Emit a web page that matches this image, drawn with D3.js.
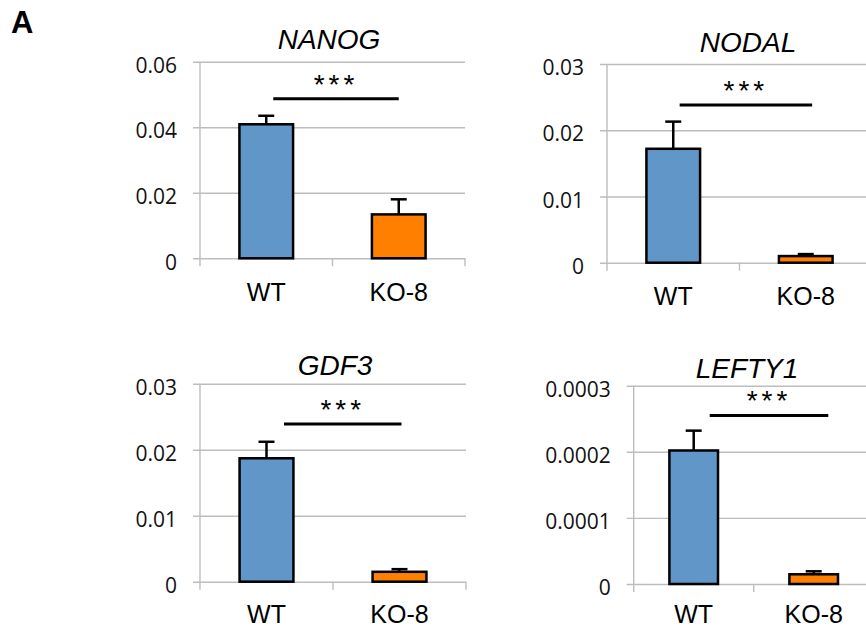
<!DOCTYPE html>
<html>
<head>
<meta charset="utf-8">
<script src="https://cdn.jsdelivr.net/npm/d3@7"></script>
<style>
  body { margin: 0; background: #fff; }
  svg { display: block; }
</style>
</head>
<body>
<svg id="chart" width="866" height="630"></svg>
<script>
// values (relative expression, mean and upper error)
var genes = ["NANOG", "NODAL", "GDF3", "LEFTY1"];
var groups = ["WT", "KO-8"];
var means = [
    [0.0409, 0.0134],
    [0.0172, 0.0010],
    [0.0187, 0.0015],
    [0.000202, 0.0000147]
];
var errors = [
    [0.0026, 0.0046],
    [0.0041, 0.0003],
    [0.0025, 0.0004],
    [0.000030, 0.0000045]
];
var yMax = [0.06, 0.03, 0.03, 0.0003];
var yTicks = [
    [0, 0.02, 0.04, 0.06],
    [0, 0.01, 0.02, 0.03],
    [0, 0.01, 0.02, 0.03],
    [0, 0.0001, 0.0002, 0.0003]
];
var yTickLabels = [
    ["0", "0.02", "0.04", "0.06"],
    ["0", "0.01", "0.02", "0.03"],
    ["0", "0.01", "0.02", "0.03"],
    ["0", "0.0001", "0.0002", "0.0003"]
];
var sigLabels = ["***", "***", "***", "***"];
var sigLevel = [0.0487, 0.0238, 0.0239, 0.000255];

var colors = ["#6196c9", "#ff7f00"];

// panel placement (pixels)
var panels = [
    {x0: 200, x1: 465, top: 61.7, bottom: 258.3, titleX: 329, titleY: 49, sigL: 7, sigR: 0, labPad: 25},
    {x0: 607, x1: 872, top: 64, bottom: 262.7, titleX: 748, titleY: 51.5, sigL: 6.4, sigR: 6.4, labPad: 25},
    {x0: 200, x1: 466, top: 383.7, bottom: 581.7, titleX: 335, titleY: 374.5, sigL: 17.5, sigR: 2, labPad: 24},
    {x0: 633.7, x1: 873.7, top: 385.7, bottom: 584, titleX: 747, titleY: 377.5, sigL: 16, sigR: 14.6, labPad: 21}
];

var svg = d3.select("#chart");

svg.append("text")
    .attr("x", 11)
    .attr("y", 33)
    .attr("font-family", "Liberation Sans, Arial, sans-serif")
    .attr("font-weight", "bold")
    .attr("font-size", 31)
    .text("A");

panels.forEach(function(p, i) {
    var g = svg.append("g");

    var x = d3.scaleBand()
        .domain(groups)
        .range([p.x0, p.x1]);

    var y = d3.scaleLinear()
        .domain([0, yMax[i]])
        .range([p.bottom, p.top]);

    // gridlines + tick labels
    var yAxis = d3.axisLeft(y)
        .tickValues(yTicks[i])
        .tickFormat(function(d, j) { return yTickLabels[i][j]; })
        .tickSize(-(p.x1 - p.x0 + 7))
        .tickPadding(16);

    var ga = g.append("g")
        .attr("transform", "translate(" + (p.x0 - 7) + ",0)")
        .call(yAxis);
    ga.select(".domain").remove();
    ga.selectAll(".tick line")
        .attr("stroke", "#bdbdbd")
        .attr("stroke-width", 1.4);
    ga.selectAll(".tick text")
        .attr("dy", "0.51em")
        .attr("fill", "#111")
        .attr("font-family", "Open Sans, sans-serif")
        .attr("font-size", 21);

    // vertical axis line
    g.append("line")
        .attr("x1", p.x0).attr("x2", p.x0)
        .attr("y1", y(yMax[i])).attr("y2", y(0) + 8)
        .attr("stroke", "#bdbdbd")
        .attr("stroke-width", 1.4);

    // category boundary ticks
    var bounds = d3.range(groups.length + 1).map(function(k) { return p.x0 + k * x.step(); });
    g.selectAll(".btick")
        .data(bounds.slice(1))
        .enter().append("line")
        .attr("class", "btick")
        .attr("x1", function(d) { return d; })
        .attr("x2", function(d) { return d; })
        .attr("y1", y(0))
        .attr("y2", y(0) + 8)
        .attr("stroke", "#bdbdbd")
        .attr("stroke-width", 1.4);

    // category labels
    var xAxis = d3.axisBottom(x).tickSize(0).tickPadding(p.labPad);
    var gx = g.append("g")
        .attr("transform", "translate(0," + y(0) + ")")
        .call(xAxis);
    gx.select(".domain").remove();
    gx.selectAll(".tick text")
        .attr("fill", "#000")
        .attr("font-family", "Liberation Sans, Arial, sans-serif")
        .attr("font-size", 25);

    var barW = x.bandwidth() * 0.405;
    var rows = groups.map(function(gr, j) {
        return {group: gr, mean: means[i][j], err: errors[i][j], color: colors[j]};
    });

    // error bars (upper only)
    g.selectAll(".err")
        .data(rows)
        .enter().append("line")
        .attr("x1", function(d) { return x(d.group) + x.bandwidth() / 2; })
        .attr("x2", function(d) { return x(d.group) + x.bandwidth() / 2; })
        .attr("y1", function(d) { return y(d.mean); })
        .attr("y2", function(d) { return y(d.mean + d.err); })
        .attr("stroke", "#000")
        .attr("stroke-width", 2.5);
    g.selectAll(".cap")
        .data(rows)
        .enter().append("line")
        .attr("x1", function(d) { return x(d.group) + x.bandwidth() / 2 - 8; })
        .attr("x2", function(d) { return x(d.group) + x.bandwidth() / 2 + 8; })
        .attr("y1", function(d) { return y(d.mean + d.err); })
        .attr("y2", function(d) { return y(d.mean + d.err); })
        .attr("stroke", "#000")
        .attr("stroke-width", 2.5);

    // bars
    g.selectAll(".bar")
        .data(rows)
        .enter().append("rect")
        .attr("x", function(d) { return x(d.group) + (x.bandwidth() - barW) / 2; })
        .attr("y", function(d) { return y(d.mean); })
        .attr("width", barW)
        .attr("height", function(d) { return y(0) - y(d.mean); })
        .attr("fill", function(d) { return d.color; })
        .attr("stroke", "#000")
        .attr("stroke-width", 2.5);

    // significance bracket
    var c1 = x(groups[0]) + x.bandwidth() / 2 + p.sigL;
    var c2 = x(groups[1]) + x.bandwidth() / 2 + p.sigR;
    g.append("line")
        .attr("x1", c1).attr("x2", c2)
        .attr("y1", y(sigLevel[i])).attr("y2", y(sigLevel[i]))
        .attr("stroke", "#000")
        .attr("stroke-width", 3);
    g.append("text")
        .attr("x", (c1 + c2) / 2)
        .attr("y", y(sigLevel[i]) - 5)
        .attr("text-anchor", "middle")
        .attr("font-family", "Liberation Sans, Arial, sans-serif")
        .attr("font-size", 28)
        .attr("letter-spacing", 4)
        .text(sigLabels[i]);

    // gene title
    g.append("text")
        .attr("x", p.titleX)
        .attr("y", p.titleY)
        .attr("text-anchor", "middle")
        .attr("font-family", "Liberation Sans, Arial, sans-serif")
        .attr("font-style", "italic")
        .attr("font-size", 28)
        .text(genes[i]);
});
</script>
</body>
</html>
